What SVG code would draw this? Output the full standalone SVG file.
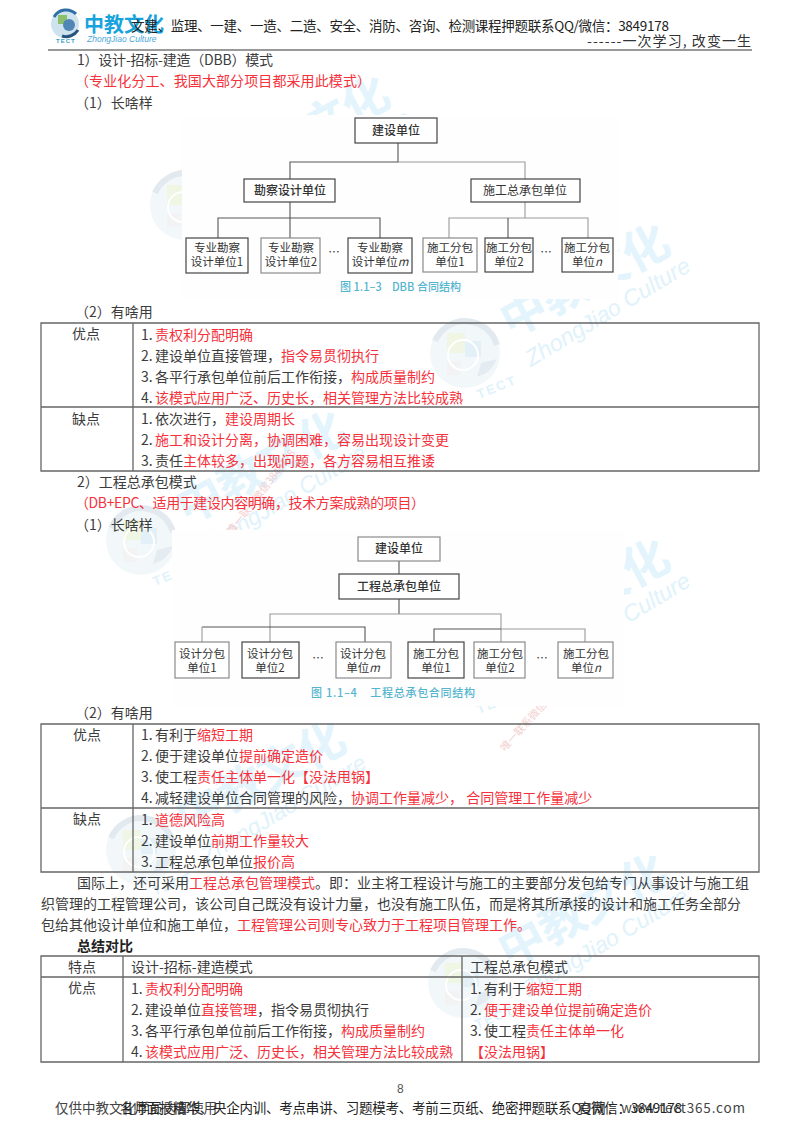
<svg xmlns="http://www.w3.org/2000/svg" width="800" height="1132" viewBox="0 0 800 1132">
<style>
text{font-family:"Noto Sans CJK SC","Liberation Sans",sans-serif;font-size:14px;fill:#3c3c3c}
.r{fill:#f5323c}
.b{font-weight:700}
.n{fill:#fff;stroke:#444;stroke-width:1.2}
.nl{fill:#fff;stroke:#8a8a8a;stroke-width:1.2}
.nt{font-size:12px;font-weight:500;text-anchor:middle;fill:#333}
.s{font-size:11.5px;text-anchor:middle;fill:#333}
.cap{font-size:11px;font-weight:500;fill:#55b5cf;white-space:pre}
.c{fill:none;stroke:#555;stroke-width:1.1}
.g{fill:none;stroke:#999;stroke-width:1.1}
.t{fill:none;stroke:#666;stroke-width:1.3}
.wt{font-size:46px;font-weight:700;fill:#e3f4fc}
.wc{font-family:"Liberation Sans",sans-serif;font-style:italic;font-size:23px;fill:#e0f2fb}
.wl{font-family:"Liberation Sans",sans-serif;font-weight:700;font-size:13px;fill:#e0f2fb;letter-spacing:2px}
.pk{font-size:10.5px;fill:#f3cfcf}
</style>
<defs>
<g id="wm">
<circle r="35" fill="#f2f7fa"/>
<path d="M-30-12A33 33 0 0 1 32-8" fill="none" stroke="#e2eaf0" stroke-width="6"/>
<rect x="-18" y="-20" width="18" height="20" fill="#eff6e4"/>
<rect x="0" y="-12" width="16" height="16" fill="#e4f0f7"/>
<rect x="-18" y="8" width="14" height="14" fill="#f3f3f3"/>
<path d="M12 24A30 30 0 0 0 32 6L16 10Z" fill="#e4ebf1"/>
<circle cx="-2" cy="2" r="15" fill="none" stroke="#fff" stroke-width="2"/>
<text class="wl" transform="translate(14 46) rotate(-22)">TECT</text>
<text class="wt" transform="translate(46 -15) rotate(-28)">中教文化</text>
<text class="wc" transform="translate(66 14) rotate(-31)">ZhongJiao Culture</text>
</g>
</defs>
<rect width="800" height="1132" fill="#fff"/>
<g id="watermarks">
<use href="#wm" x="185" y="205"/>
<use href="#wm" x="465" y="353"/>
<use href="#wm" x="141" y="540"/>
<use href="#wm" x="465" y="668"/>
<use href="#wm" x="141" y="850"/>
<use href="#wm" x="463" y="983"/>
<text class="pk" transform="translate(232 535) rotate(-52)">唯一联系微信3849178</text>
<text class="pk" transform="translate(505 752) rotate(-48)">唯一联系微信3849178</text>
</g>
<rect x="182" y="115" width="436" height="184" fill="#fefefe"/>
<rect x="172" y="530" width="452" height="176" fill="#fefefe"/>

<g id="header">
<circle cx="65" cy="24" r="14" fill="#cfe3ee"/>
<path d="M54 17A14 14 0 0 1 76 14" fill="none" stroke="#2f6fa8" stroke-width="3"/>
<rect x="58" y="15" width="9" height="9" fill="#8cbf6a"/>
<circle cx="69" cy="25" r="6" fill="#4f86b5"/>
<path d="M62 36A14 14 0 0 0 78 30" fill="none" stroke="#27557f" stroke-width="3"/>
<text x="56" y="43" style="font-size:6px;font-weight:700;fill:#3aa0c8;font-family:'Liberation Sans',sans-serif;letter-spacing:1px">TECT</text>
<text x="84" y="32" style="font-size:20px;font-weight:700;fill:#19a3dc">中教文化</text>
<text x="87" y="42" style="font-size:8.5px;font-style:italic;fill:#4aa8d8;font-family:'Liberation Sans',sans-serif">ZhongJiao Culture</text>
<text x="131" y="31" style="font-size:13.5px;fill:#222" textLength="538">文建、监理、一建、一造、二造、安全、消防、咨询、检测课程押题联系QQ/微信：3849178</text>
<text x="587" y="46" style="fill:#333" textLength="164">------一次学习, 改变一生</text>
<line x1="48" y1="50" x2="752" y2="50" stroke="#777" stroke-width="1.5"/>
</g>

<g id="section-dbb">
<text x="77" y="65" textLength="196">1）设计-招标-建造（DBB）模式</text>
<text x="75" y="86" class="r" textLength="296">（专业化分工、我国大部分项目都采用此模式）</text>
<text x="75" y="108">（1）长啥样</text>
</g>

<g id="connectors">
<path class="c" d="M398 143V162H290V179M290 202V238M218 238V218H380V238"/>
<path class="g" d="M398 162H525V179M525 202V218M449 238V218H588V238"/>
<path class="c" d="M508 218V238"/>
<path class="c" d="M399 561V574M399 599V614"/>
<path class="g" d="M399 614H270V642M399 614H501V642"/>
<path class="c" d="M202 627H365V642"/>
<path class="g" d="M202 627V642"/>
<path class="c" d="M434 642V629H501"/>
<path class="g" d="M501 629H585V642"/>
</g>

<g id="d1-owner"><rect class="n" x="355" y="118" width="82" height="25"/><text class="nt" x="396" y="135">建设单位</text></g>
<g id="d1-survey"><rect class="n" x="244" y="179" width="91" height="23"/><text class="nt" x="290" y="195">勘察设计单位</text></g>
<g id="d1-general"><rect class="n" x="471" y="179" width="109" height="23"/><text class="nt" x="525" y="195" style="font-weight:400">施工总承包单位</text></g>
<g id="d1-s1"><rect class="n" x="186" y="238" width="62" height="35"/><text class="s" x="217" y="252">专业勘察</text><text class="s" x="217" y="266">设计单位1</text></g>
<g id="d1-s2"><rect class="nl" x="261" y="238" width="59" height="35"/><text class="s" x="291" y="252">专业勘察</text><text class="s" x="291" y="266">设计单位2</text></g>
<g id="d1-sm"><rect class="n" x="348" y="238" width="64" height="35"/><text class="s" x="380" y="252">专业勘察</text><text class="s" x="380" y="266">设计单位<tspan font-style="italic">m</tspan></text></g>
<g id="d1-c1"><rect class="nl" x="423" y="238" width="54" height="34"/><text class="s" x="450" y="252">施工分包</text><text class="s" x="450" y="266">单位1</text></g>
<g id="d1-c2"><rect class="n" x="485" y="238" width="48" height="34"/><text class="s" x="509" y="252">施工分包</text><text class="s" x="509" y="266">单位2</text></g>
<g id="d1-cn"><rect class="n" x="562" y="238" width="51" height="34"/><text class="s" x="587" y="252">施工分包</text><text class="s" x="587" y="266">单位<tspan font-style="italic">n</tspan></text></g>
<text class="s" x="334" y="256">…</text>
<text class="s" x="546" y="256">…</text>
<text class="cap" x="340" y="291" textLength="121">图 1.1–3    DBB 合同结构</text>

<text x="75" y="317">（2）有啥用</text>
<g id="table1">
<path class="t" d="M41 323H759V471H41ZM133 323V471M41 407H759"/>
<text x="72" y="339">优点</text>
<text x="141" y="340">1.<tspan x="155" class="r">责权利分配明确</tspan></text>
<text x="141" y="361">2.<tspan x="155">建设单位直接管理，</tspan><tspan class="r">指令易贯彻执行</tspan></text>
<text x="141" y="382">3.<tspan x="155">各平行承包单位前后工作衔接，</tspan><tspan class="r">构成质量制约</tspan></text>
<text x="141" y="403">4.<tspan x="155" class="r">该模式应用广泛、历史长，相关管理方法比较成熟</tspan></text>
<text x="72" y="424">缺点</text>
<text x="141" y="424">1.<tspan x="155">依次进行，</tspan><tspan class="r">建设周期长</tspan></text>
<text x="141" y="445">2.<tspan x="155" class="r">施工和设计分离，协调困难，容易出现设计变更</tspan></text>
<text x="141" y="466">3.<tspan x="155">责任</tspan><tspan class="r">主体较多，出现问题，各方容易相互推诿</tspan></text>
</g>

<g id="section-epc">
<text x="77" y="487">2）工程总承包模式</text>
<text x="75" y="508" class="r" textLength="350">（DB+EPC、适用于建设内容明确，技术方案成熟的项目）</text>
<text x="75" y="530">（1）长啥样</text>
</g>

<g id="d2-owner"><rect class="nl" x="358" y="537" width="82" height="24"/><text class="nt" x="399" y="553">建设单位</text></g>
<g id="d2-general"><rect class="n" x="339" y="574" width="120" height="25"/><text class="nt" x="399" y="591">工程总承包单位</text></g>
<g id="d2-s1"><rect class="nl" x="175" y="642" width="54" height="36"/><text class="s" x="202" y="658">设计分包</text><text class="s" x="202" y="672">单位1</text></g>
<g id="d2-s2"><rect class="n" x="242" y="642" width="57" height="36"/><text class="s" x="270" y="658">设计分包</text><text class="s" x="270" y="672">单位2</text></g>
<g id="d2-sm"><rect class="nl" x="336" y="642" width="55" height="36"/><text class="s" x="363" y="658">设计分包</text><text class="s" x="363" y="672">单位<tspan font-style="italic">m</tspan></text></g>
<g id="d2-c1"><rect class="n" x="408" y="642" width="56" height="36"/><text class="s" x="436" y="658">施工分包</text><text class="s" x="436" y="672">单位1</text></g>
<g id="d2-c2"><rect class="nl" x="474" y="642" width="51" height="36"/><text class="s" x="500" y="658">施工分包</text><text class="s" x="500" y="672">单位2</text></g>
<g id="d2-cn"><rect class="nl" x="558" y="642" width="55" height="36"/><text class="s" x="586" y="658">施工分包</text><text class="s" x="586" y="672">单位<tspan font-style="italic">n</tspan></text></g>
<text class="s" x="318" y="662">…</text>
<text class="s" x="542" y="662">…</text>
<text class="cap" x="311" y="697" textLength="164">图 1.1–4    工程总承包合同结构</text>

<text x="75" y="718">（2）有啥用</text>
<g id="table2">
<path class="t" d="M41 724H759V872H41ZM133 724V872M41 808H759"/>
<text x="73" y="740">优点</text>
<text x="141" y="740">1.<tspan x="155">有利于</tspan><tspan class="r">缩短工期</tspan></text>
<text x="141" y="761">2.<tspan x="155">便于建设单位</tspan><tspan class="r">提前确定造价</tspan></text>
<text x="141" y="782">3.<tspan x="155">使工程</tspan><tspan class="r">责任主体单一化【没法甩锅】</tspan></text>
<text x="141" y="803">4.<tspan x="155">减轻建设单位合同管理的风险，</tspan><tspan class="r">协调工作量减少， 合同管理工作量减少</tspan></text>
<text x="73" y="824">缺点</text>
<text x="141" y="825">1.<tspan x="155" class="r">道德风险高</tspan></text>
<text x="141" y="846">2.<tspan x="155">建设单位</tspan><tspan class="r">前期工作量较大</tspan></text>
<text x="141" y="867">3.<tspan x="155">工程总承包单位</tspan><tspan class="r">报价高</tspan></text>
</g>

<g id="paragraph">
<text x="77" y="888">国际上，还可采用<tspan class="r">工程总承包管理模式</tspan>。即：业主将工程设计与施工的主要部分发包给专门从事设计与施工组</text>
<text x="41" y="909">织管理的工程管理公司，该公司自己既没有设计力量，也没有施工队伍，而是将其所承接的设计和施工任务全部分</text>
<text x="41" y="930">包给其他设计单位和施工单位，<tspan class="r">工程管理公司则专心致力于工程项目管理工作。</tspan></text>
</g>

<text x="77" y="951" class="b" style="fill:#222">总结对比</text>
<g id="table3">
<path class="t" d="M41 956H759V1062H41ZM41 977H759M123 956V1062M462 956V1062"/>
<text x="68" y="972">特点</text>
<text x="131" y="972">设计-招标-建造模式</text>
<text x="470" y="972">工程总承包模式</text>
<text x="68" y="993">优点</text>
<text x="131" y="994">1.<tspan x="145" class="r">责权利分配明确</tspan></text>
<text x="131" y="1015">2.<tspan x="145">建设单位</tspan><tspan class="r">直接管理</tspan>，指令易贯彻执行</text>
<text x="131" y="1036">3.<tspan x="145">各平行承包单位前后工作衔接，</tspan><tspan class="r">构成质量制约</tspan></text>
<text x="131" y="1057">4.<tspan x="145" class="r">该模式应用广泛、历史长，相关管理方法比较成熟</tspan></text>
<text x="470" y="994">1.<tspan x="484">有利于</tspan><tspan class="r">缩短工期</tspan></text>
<text x="470" y="1015">2.<tspan x="484" class="r">便于建设单位提前确定造价</tspan></text>
<text x="470" y="1036">3.<tspan x="484">使工程</tspan><tspan class="r">责任主体单一化</tspan></text>
<text x="470" y="1057" class="r">【没法甩锅】</text>
</g>

<g id="footer">
<text x="397" y="1093" style="font-family:'Liberation Sans',sans-serif;font-size:12px;fill:#555">8</text>
<text x="55" y="1113" style="font-size:13.5px;fill:#444">仅供中教文化学员内部使用</text>
<text x="578" y="1113" style="font-size:13.5px;fill:#444" textLength="167">官网：www.tect365.com</text>
<text x="120" y="1113" style="font-size:13.5px;fill:#222" textLength="562">名师面授精华、央企内训、考点串讲、习题模考、考前三页纸、绝密押题联系QQ微信：3849178</text>
</g>
</svg>
